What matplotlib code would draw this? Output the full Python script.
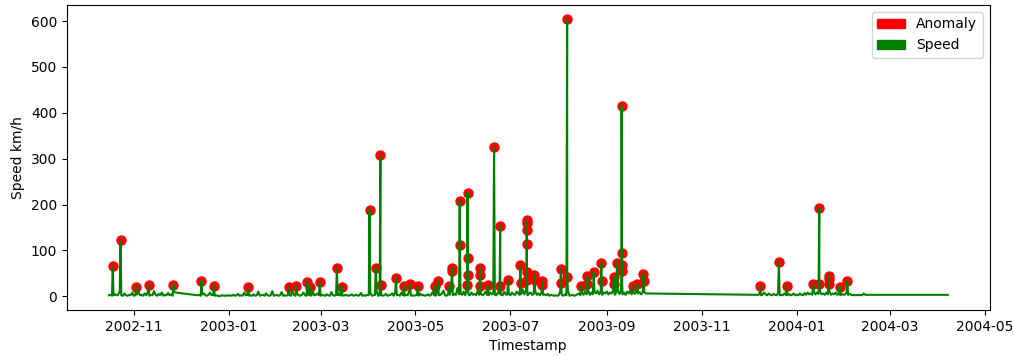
import matplotlib
matplotlib.use("Agg")
import matplotlib.pyplot as plt
import matplotlib.patches as mpatches
import pandas as pd

# ---- baseline speed readings (daily) ----
base1_start = "2002-10-16"
base1_vals = [2,3,1,2,4,2,3,12,2,1,6,2,1,3,2,8,1,2,4,10,2,3,1,6,2,9,1,3,2,11,3,1,5,2,8,1,3,2,7,2,4,1,9,8]

base2_start = "2002-12-12"
base2_vals = (
    [2,3,1,4,6,2,1,3,8,2,3,1,2,1,0,1,2,1,1,2] +
    [1,2,1,3,1,2,5,1,2,1,8,2,3,1,2,1,4,1,2,10,1,2,3,1,6,2,1,2,11,1,2] +
    [3,1,2,9,1,2,1,3,2,1,12,2,1,5,2,1,3,8,2,1,4,2,1,10,2,3,6,2] +
    [1,3,2,1,4,2,1,9,2,1,3,2,6,1,2,1,3,2,1,2,4,1,2,3,1,2,7,1,2,1,3] +
    [2,8,1,2,3,12,1,2,3,1,2,5,1,2,3,6,1,10,2,3,1,8,2,1,3,2,12,1,2,1] +
    [2,3,1,6,2,3,1,2,4,1,3,9,2,1,10,2,3,6,12,2,1,4,3,15,2,5,3,18,4,6,3] +
    [10,2,16,4,2,8,3,5,2,12,3,6,2,4,10,3,2,8,4,6,3,2,9,5,3,2,10,4,3,6] +
    [2,8,4,3,10,6,3,5,14,4,12,2,6,8,3,5,10,3,6,2,8,3,4,2,5,1,3,2,1,2,1] +
    [2,10,3,1,4,2,12,1,2,3,1,2,4,6,2,8,3,10,4,12,3,8,4,10,6,12,4,9,3,8,6] +
    [10,4,8,6,12,3,8,14,5,10,4,8,3,10,6,12,4,8,5,10,6,9,4,8,10,6]
)

base3_start = "2003-12-07"
base3_vals = (
    [3,4,2,3,8,4,2,6,3,2,5,3,2,7,2,3,2,6,3,2,5,2,3,6,2] +
    [3,2,6,3,2,7,3,8,4,6,3,10,4,8,5,9,4,6,3,8,4,10,3,6,4,8,3,6,2,5,3] +
    [4,8,3,5,3,2,3,2,3,2,3,2,6,3,3]
)

end_times = ["2004-04-07"]
end_vals = [3]

# ---- anomalous readings ----
anom_times = [
    "2002-10-18 12:00", "2002-10-23 12:00", "2002-11-02 12:00", "2002-11-10 12:00",
    "2002-11-26 12:00", "2002-12-14 12:00", "2002-12-22 12:00", "2003-01-13 12:00",
    "2003-02-08 12:00", "2003-02-13 12:00", "2003-02-20 12:00", "2003-02-22 12:00",
    "2003-02-28 12:00", "2003-03-11 12:00", "2003-03-14 12:00", "2003-04-01 12:00",
    "2003-04-05 12:00", "2003-04-08 11:00", "2003-04-08 13:00", "2003-04-18 12:00",
    "2003-04-23 12:00", "2003-04-27 12:00", "2003-05-02 12:00", "2003-05-13 12:00",
    "2003-05-15 12:00", "2003-05-22 12:00", "2003-05-24 11:00", "2003-05-24 13:00",
    "2003-05-29 11:00", "2003-05-29 13:00",
    "2003-06-03 10:00", "2003-06-03 11:00", "2003-06-03 13:00", "2003-06-03 14:00",
    "2003-06-11 11:00", "2003-06-11 12:00", "2003-06-11 13:00", "2003-06-16 12:00",
    "2003-06-20 12:00", "2003-06-24 11:00", "2003-06-24 13:00", "2003-06-29 12:00",
    "2003-07-07 11:00", "2003-07-07 13:00",
    "2003-07-11 09:00", "2003-07-11 10:00", "2003-07-11 11:00", "2003-07-11 12:00",
    "2003-07-11 13:00", "2003-07-11 14:00",
    "2003-07-16 11:00", "2003-07-16 13:00", "2003-07-21 11:00", "2003-07-21 13:00",
    "2003-08-02 11:00", "2003-08-02 13:00", "2003-08-06 11:00", "2003-08-06 13:00",
    "2003-08-15 12:00", "2003-08-19 11:00", "2003-08-19 13:00", "2003-08-23 12:00",
    "2003-08-28 11:00", "2003-08-28 13:00", "2003-09-05 11:00", "2003-09-05 13:00",
    "2003-09-07 12:00",
    "2003-09-10 10:00", "2003-09-10 11:00", "2003-09-10 13:00", "2003-09-10 14:00",
    "2003-09-17 12:00", "2003-09-20 12:00", "2003-09-24 11:00", "2003-09-24 13:00",
    "2003-12-08 12:00", "2003-12-20 12:00", "2003-12-25 12:00", "2004-01-11 12:00",
    "2004-01-15 11:00", "2004-01-15 13:00",
    "2004-01-21 11:00", "2004-01-21 12:00", "2004-01-21 13:00",
    "2004-01-28 12:00", "2004-02-02 12:00",
]
anom_vals = [
    65, 123, 21, 25,
    25, 34, 23, 20,
    20, 23, 32, 20,
    30, 62, 21, 188,
    62, 308, 24, 40,
    22, 26, 22, 22,
    33, 22, 62, 55,
    208, 112,
    25, 226, 84, 47,
    62, 47, 22, 24,
    325, 154, 22, 35,
    67, 29,
    36, 113, 166, 160, 145, 52,
    47, 36, 33, 24,
    60, 29, 605, 42,
    22, 44, 26, 53,
    73, 33, 42, 26,
    73,
    55, 415, 95, 69,
    22, 26, 49, 33,
    22, 75, 22, 26,
    193, 26,
    44, 37, 26,
    21, 33,
]

# ---- assemble full speed series ----
frames = []
for start, vals in [(base1_start, base1_vals), (base2_start, base2_vals), (base3_start, base3_vals)]:
    frames.append(pd.DataFrame({"t": pd.date_range(start, periods=len(vals), freq="D"), "v": vals}))
frames.append(pd.DataFrame({"t": pd.to_datetime(end_times), "v": end_vals}))
anom = pd.DataFrame({"t": pd.to_datetime(anom_times), "v": anom_vals})
frames.append(anom)
speed = pd.concat(frames).sort_values("t").reset_index(drop=True)

fig = plt.figure(figsize=(10.14, 3.56), dpi=100)
ax = fig.add_axes([0.066, 0.129, 0.910, 0.857])

ax.scatter(anom["t"], anom["v"], color="red", s=42, zorder=2)
ax.plot(speed["t"], speed["v"], color="green", linewidth=1.5, zorder=3)

ax.set_xlabel("Timestamp")
ax.set_ylabel("Speed km/h")

handles = [mpatches.Patch(color="red", label="Anomaly"),
           mpatches.Patch(color="green", label="Speed")]
ax.legend(handles=handles, loc="upper right")

fig.savefig("out.png", dpi=100)
